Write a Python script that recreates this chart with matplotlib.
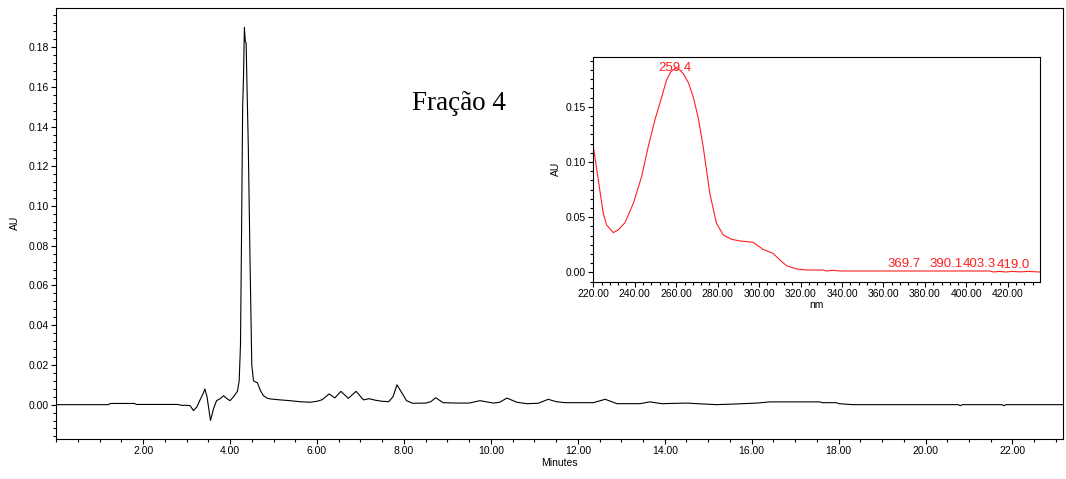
import matplotlib
matplotlib.use("Agg")
import matplotlib.pyplot as plt
from matplotlib.ticker import MultipleLocator, AutoMinorLocator, FormatStrFormatter

plt.rcParams['font.family'] = ['Liberation Sans', 'DejaVu Sans']

# chromatogram (minutes, AU)
time_min = [0.0, 1.2, 1.25, 1.8, 1.85, 2.8, 2.9, 3.0, 3.08, 3.16, 3.24, 3.31, 3.38, 3.42,
            3.47, 3.55, 3.62, 3.69, 3.77, 3.85, 3.93, 4.0, 4.08, 4.17, 4.21, 4.24, 4.26,
            4.29, 4.31, 4.33, 4.35, 4.37, 4.39, 4.42, 4.46, 4.50, 4.54, 4.58, 4.63, 4.70,
            4.77, 4.85, 4.92, 5.1, 5.38, 5.6, 5.84, 6.0, 6.12, 6.28, 6.41, 6.55, 6.72,
            6.90, 7.07, 7.2, 7.35, 7.5, 7.65, 7.75, 7.84, 7.95, 8.06, 8.2, 8.5, 8.62,
            8.73, 8.9, 9.2, 9.5, 9.75, 10.06, 10.2, 10.37, 10.6, 10.83, 11.09, 11.32,
            11.5, 11.71, 12.36, 12.63, 12.9, 13.43, 13.66, 13.93, 14.51, 14.74, 15.2,
            15.58, 16.12, 16.42, 17.57, 17.62, 17.95, 18.0, 18.33, 20.75, 20.8, 20.85,
            21.75, 21.8, 21.85, 23.17]
au = [0.0, 0.0, 0.0006, 0.0006, 0.0001, 0.0001, -0.0004, -0.0003, -0.0005, -0.003, -0.001,
      0.0024, 0.0055, 0.0079, 0.004, -0.008, -0.002, 0.002, 0.003, 0.0045, 0.003, 0.002,
      0.004, 0.0067, 0.012, 0.03, 0.075, 0.15, 0.165, 0.19, 0.183, 0.182, 0.16, 0.13,
      0.072, 0.02, 0.012, 0.0115, 0.011, 0.007, 0.0045, 0.0033, 0.0029, 0.0025, 0.002,
      0.0015, 0.0012, 0.0017, 0.0025, 0.0054, 0.0034, 0.0067, 0.0032, 0.0067, 0.0024,
      0.003, 0.0022, 0.0017, 0.0015, 0.004, 0.010, 0.006, 0.002, 0.0007, 0.0008, 0.0015,
      0.0035, 0.001, 0.0008, 0.0008, 0.002, 0.0008, 0.0012, 0.0033, 0.0012, 0.0005,
      0.0007, 0.0027, 0.0015, 0.001, 0.001, 0.0027, 0.0005, 0.0005, 0.0014, 0.0005,
      0.0008, 0.0005, 0.0, 0.0003, 0.0008, 0.0014, 0.0014, 0.001, 0.001, 0.0005, 0.0,
      0.0, -0.0005, 0.0, 0.0, -0.0005, 0.0, 0.0]

# UV spectrum of the main peak (nm, AU)
wl_nm = [220.0, 222.4, 224.8, 226.4, 229.6, 232.0, 235.3, 239.3, 243.3, 246.5, 249.7,
         252.1, 255.3, 257.3, 259.4, 261.4, 263.4, 265.8, 268.2, 270.6, 273.0, 276.2,
         279.4, 282.7, 286.7, 290.7, 297.1, 301.9, 306.7, 310.0, 313.2, 318.0, 322.8,
         330.8, 332.4, 335.7, 338.9, 411.2, 413.0, 416.0, 419.0, 422.0, 426.0, 430.0,
         435.5]
spec_au = [0.1138, 0.0836, 0.0534, 0.0429, 0.036, 0.0383, 0.045, 0.0625, 0.0867, 0.1138,
           0.138, 0.153, 0.174, 0.1815, 0.1848, 0.1838, 0.180, 0.172, 0.159, 0.140, 0.1138,
           0.0716, 0.0444, 0.0338, 0.0299, 0.0284, 0.0272, 0.0208, 0.0172, 0.0112, 0.006,
           0.003, 0.0021, 0.0021, 0.0012, 0.0018, 0.0012, 0.0012, 0.0003, 0.0008, 0.0003,
           0.0008, 0.0004, 0.0008, 0.0003]
peak_labels = [259.4, 369.7, 390.1, 403.3, 419.0]
label_shift = [0, 0, 0, 4.3, 5.5]   # points, keeps the crowded labels apart

fig = plt.figure(figsize=(10.66, 4.79), dpi=100)
ax = fig.add_axes([0.0527, 0.0843, 0.9448, 0.8990])
ax.plot(time_min, au, color='black', lw=0.8)
ax.set_xlim(0, 23.17)
ax.set_ylim(-0.0171, 0.1997)
ax.xaxis.set_major_locator(MultipleLocator(2))
ax.xaxis.set_minor_locator(AutoMinorLocator(4))
ax.yaxis.set_major_locator(MultipleLocator(0.02))
ax.yaxis.set_minor_locator(AutoMinorLocator(5))
ax.xaxis.set_major_formatter(FormatStrFormatter('%.2f'))
ax.yaxis.set_major_formatter(FormatStrFormatter('%.2f'))
ax.set_xticks([t for t in range(2, 24, 2)])
ax.tick_params(which='major', direction='out', length=3.5, width=0.8, labelsize=7.5, pad=2)
ax.tick_params(which='minor', direction='out', length=2, width=0.8)
ax.set_xlabel('Minutes', fontsize=7.5, labelpad=1)
ax.set_ylabel('AU', fontsize=7.5, labelpad=6)
for s in ax.spines.values():
    s.set_linewidth(0.8)

fig.text(459 / 1066, 1 - 103 / 479, 'Fração 4', fontsize=19.5,
         family='Liberation Serif', ha='center', va='center')

# inset: spectrum
ins = fig.add_axes([0.556, 0.4119, 0.4196, 0.4697])
ins.plot(wl_nm, spec_au, color='#ff2020', lw=0.8)
ins.set_xlim(219.7, 435.5)
ins.set_ylim(-0.0085, 0.1953)
ins.xaxis.set_major_locator(MultipleLocator(20))
ins.xaxis.set_minor_locator(AutoMinorLocator(5))
ins.yaxis.set_major_locator(MultipleLocator(0.05))
ins.yaxis.set_minor_locator(AutoMinorLocator(6))
ins.xaxis.set_major_formatter(FormatStrFormatter('%.2f'))
ins.yaxis.set_major_formatter(FormatStrFormatter('%.2f'))
ins.tick_params(which='major', direction='out', length=3.5, width=0.8, labelsize=7.5, pad=1.5)
ins.tick_params(which='minor', direction='out', length=2, width=0.8)
ins.set_xlabel('nm', fontsize=7.5, labelpad=1)
ins.set_ylabel('AU', fontsize=7.5, labelpad=3)
for s in ins.spines.values():
    s.set_linewidth(0.8)

for wl, dx in zip(peak_labels, label_shift):
    y = spec_au[wl_nm.index(wl)] if wl in wl_nm else 0.0012
    ins.annotate(f'{wl:.1f}', xy=(wl, y), xytext=(dx, 0 if wl == 259.4 else 1),
                 textcoords='offset points', ha='center',
                 va='center' if wl == 259.4 else 'bottom',
                 color='#ff2020', fontsize=9.5)

fig.savefig('out.png', dpi=100)
